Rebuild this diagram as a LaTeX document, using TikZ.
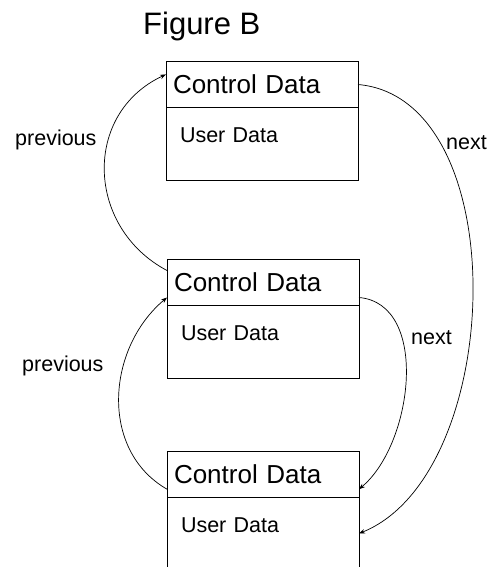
\documentclass[tikz,border=0pt]{standalone}
\usepackage{fontspec}
\setmainfont{Liberation Sans}
\usepackage{tikz}
\usetikzlibrary{arrows.meta}
\usetikzlibrary{positioning}

\begin{document}
\begin{tikzpicture}[x=1pt, y=1pt, >={Stealth[length=6pt,width=4.5pt]}]
\tikzstyle{ctlbox}=[
    draw, line width=0.9pt, outer sep=0pt,
    anchor=north west,
    inner xsep=7pt, inner ysep=0pt,
    text width=178pt, align=left,
    text height=32pt, text depth=14pt,
    font=\fontsize{26}{30}\selectfont
]
\tikzstyle{usrbox}=[
    draw, line width=0.9pt, outer sep=0pt,
    inner xsep=14pt, inner ysep=0pt,
    text width=164pt, align=left,
    text height=35pt, text depth=38pt,
    font=\fontsize{21.5}{25}\selectfont
]
\tikzstyle{link}=[->, line width=0.7pt]
\tikzstyle{etiqueta}=[anchor=base west, inner sep=0pt, font=\fontsize{21.5}{25}\selectfont]

\useasboundingbox (0,0) rectangle (489,-567);

% Titulo
\node[anchor=base west, inner sep=0pt, font=\fontsize{31}{36}\selectfont] (titulo) at (143,-35) {Figure B};

% Cajas
\node[ctlbox] (ctl1) at (166,-61.5) {Control Data};
\node[usrbox, below=0pt of ctl1] (usr1) {User Data};
\node[ctlbox] (ctl2) at (167,-259.3) {Control Data};
\node[usrbox, below=0pt of ctl2] (usr2) {User Data};
\node[ctlbox] (ctl3) at (167,-451) {Control Data};
\node[usrbox, below=0pt of ctl3] (usr3) {User Data};

% Etiquetas
\node[etiqueta] (prev1) at (15,-145) {previous};
\node[etiqueta] (prev2) at (22,-371.5) {previous};
\node[etiqueta] (next1) at (446,-149) {next};
\node[etiqueta] (next2) at (411,-344) {next};

% Flechas previous
\draw[link] (ctl2.173) to[out=152, in=205, looseness=1.2] (ctl1.174);
\draw[link] (ctl3.189) to[out=150, in=220, looseness=1.05] (ctl2.189);

% Flechas next
\draw[link] (ctl1.east) to[out=-5, in=22, looseness=0.9] (usr3.east);
\draw[link] (ctl2.351) to[out=-5, in=40, looseness=0.95] (ctl3.351);

\end{tikzpicture}
\end{document}
